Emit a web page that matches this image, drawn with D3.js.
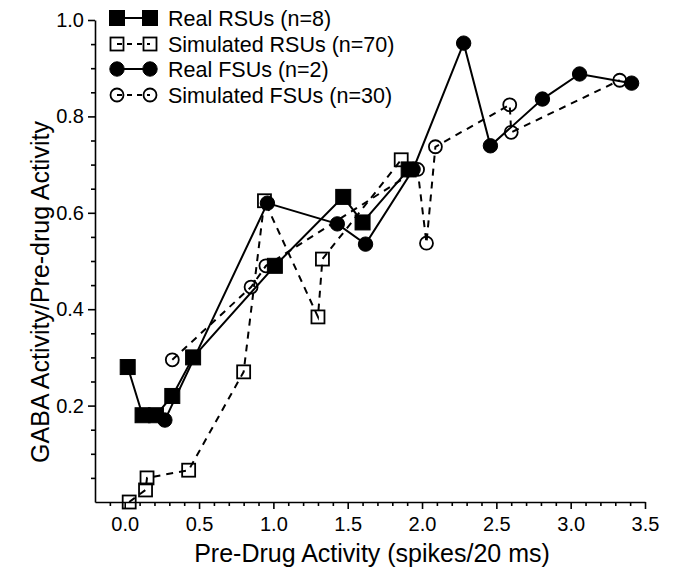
<!DOCTYPE html>
<html><head><meta charset="utf-8">
<script src="https://cdn.jsdelivr.net/npm/d3@7/dist/d3.min.js"></script>
<style>body{margin:0;background:#fff}svg{display:block}text{font-family:"Liberation Sans",Arial,Helvetica,sans-serif;fill:#000}</style>
</head><body>
<script>
// Data
const realRSU_x = [0.02, 0.12, 0.21, 0.32, 0.46, 1.01, 1.47, 1.60, 1.91];
const realRSU_y = [0.28, 0.18, 0.18, 0.22, 0.30, 0.49, 0.633, 0.58, 0.69];
const simRSU_x = [0.03, 0.14, 0.15, 0.43, 0.80, 0.94, 1.30, 1.33, 1.86];
const simRSU_y = [0.00, 0.025, 0.05, 0.066, 0.27, 0.625, 0.384, 0.504, 0.71];
const realFSU_x = [0.27, 0.96, 1.43, 1.62, 1.94, 2.28, 2.46, 2.81, 3.06, 3.41];
const realFSU_y = [0.17, 0.62, 0.577, 0.535, 0.69, 0.952, 0.739, 0.836, 0.888, 0.869];
const simFSU_x = [0.32, 0.85, 0.95, 1.97, 2.03, 2.09, 2.59, 2.60, 3.33];
const simFSU_y = [0.295, 0.446, 0.49, 0.69, 0.537, 0.737, 0.824, 0.767, 0.875];
const xTicks = [0.0, 0.5, 1.0, 1.5, 2.0, 2.5, 3.0, 3.5];
const yTicks = [0.2, 0.4, 0.6, 0.8, 1.0];
const legendLabels = ["Real RSUs (n=8)", "Simulated RSUs (n=70)", "Real FSUs (n=2)", "Simulated FSUs (n=30)"];

const W = 674, H = 570;
const svg = d3.select("body").append("svg").attr("width", W).attr("height", H);
const x = d3.scaleLinear().domain([-0.2, 3.5]).range([95, 645]);
const y = d3.scaleLinear().domain([0, 1]).range([502, 20]);

// Axes
const xMinor = d3.range(-0.1, 3.5001, 0.1).filter(v => Math.abs(v*2 - Math.round(v*2)) > 1e-6);
const yMinor = d3.range(0.05, 1.0001, 0.05).filter(v => Math.abs(v*5 - Math.round(v*5)) > 1e-6);

const gx = svg.append("g").attr("transform", `translate(0,${y(0)})`);
gx.call(d3.axisBottom(x).tickValues(xTicks).tickSize(7).tickSizeOuter(0).tickFormat(d3.format(".1f")));
gx.append("g").call(d3.axisBottom(x).tickValues(xMinor).tickSize(4).tickFormat("")).select(".domain").remove();
gx.selectAll("text").attr("font-size", 20).attr("dy", "0.95em");

const gy = svg.append("g").attr("transform", `translate(${x(-0.2)},0)`);
gy.call(d3.axisLeft(y).tickValues(yTicks).tickSize(7).tickSizeOuter(0).tickFormat(d3.format(".1f")));
gy.append("g").call(d3.axisLeft(y).tickValues(yMinor).tickSize(4).tickFormat("")).select(".domain").remove();
gy.selectAll("text").attr("font-size", 20).attr("dx", "-0.05em");
svg.selectAll(".domain, .tick line").attr("stroke", "#000").attr("stroke-width", 1.6);

// Axis titles
svg.append("text").attr("x", 372).attr("y", 562).attr("text-anchor", "middle")
  .attr("font-size", 25).text("Pre-Drug Activity (spikes/20 ms)");
svg.append("text").attr("transform", "translate(49,292) rotate(-90)").attr("text-anchor", "middle")
  .attr("font-size", 25).text("GABA Activity/Pre-drug Activity");

const series = [
  {xs: simRSU_x, ys: simRSU_y, dash: "7,6", shape: "square", filled: false},
  {xs: simFSU_x, ys: simFSU_y, dash: "7,6", shape: "circle", filled: false},
  {xs: realRSU_x, ys: realRSU_y, dash: null, shape: "square", filled: true},
  {xs: realFSU_x, ys: realFSU_y, dash: null, shape: "circle", filled: true}
];
const line = d3.line().x(d => x(d[0])).y(d => y(d[1]));

function drawMarker(g, cx, cy, s) {
  if (s.shape === "square") {
    const sz = s.filled ? 15 : 13;
    g.append("rect").attr("x", cx - sz/2).attr("y", cy - sz/2).attr("width", sz).attr("height", sz)
      .attr("fill", s.filled ? "#000" : "none").attr("stroke", "#000").attr("stroke-width", s.filled ? 1 : 1.8);
  } else {
    g.append("circle").attr("cx", cx).attr("cy", cy).attr("r", s.filled ? 7.2 : 6.5)
      .attr("fill", s.filled ? "#000" : "none").attr("stroke", "#000").attr("stroke-width", s.filled ? 1 : 1.8);
  }
}

series.forEach(s => {
  const pts = s.xs.map((v, i) => [v, s.ys[i]]);
  svg.append("path").datum(pts).attr("d", line).attr("fill", "none").attr("stroke", "#000")
    .attr("stroke-width", 2).attr("stroke-dasharray", s.dash);
});
series.forEach(s => {
  const g = svg.append("g");
  s.xs.forEach((v, i) => drawMarker(g, x(v), y(s.ys[i]), s));
});

// Legend
const legOrder = [series[2], series[0], series[3], series[1]];
const legY = [18, 44, 69, 95];
legOrder.forEach((s, i) => {
  const g = svg.append("g");
  const ly = legY[i];
  g.append("line").attr("x1", 117).attr("x2", 150).attr("y1", ly).attr("y2", ly)
    .attr("stroke", "#000").attr("stroke-width", 2).attr("stroke-dasharray", s.dash ? "5,5" : null);
  drawMarker(g, 117, ly, s);
  drawMarker(g, 150, ly, s);
  g.append("text").attr("x", 168).attr("y", ly).attr("dy", "0.36em").attr("font-size", 21.5).text(legendLabels[i]);
});
</script>
</body></html>
